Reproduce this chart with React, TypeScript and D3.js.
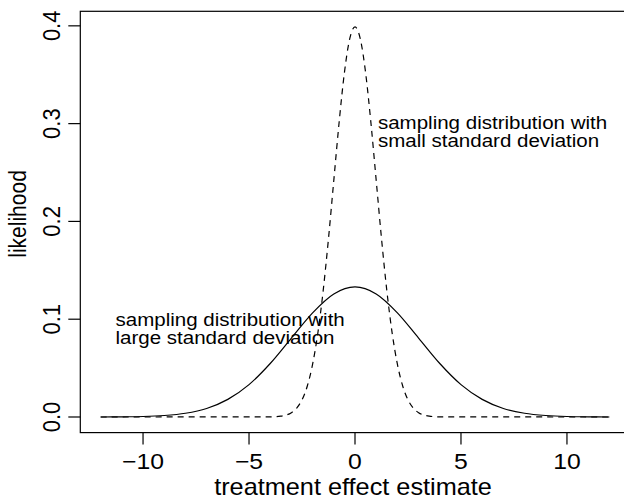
import * as d3 from "d3";
import React, { useEffect, useRef } from "react";

// wide sampling distribution (solid)
const xLarge = [-12, -11, -10, -9, -8, -7, -6, -5, -4, -3, -2, -1, 0, 1, 2, 3, 4, 5, 6, 7, 8, 9, 10, 11, 12];
const yLarge = [0.0, 0.0002, 0.0005, 0.0015, 0.0038, 0.0087, 0.018, 0.0331, 0.0547, 0.0807, 0.1065, 0.1258, 0.133,
  0.1258, 0.1065, 0.0807, 0.0547, 0.0331, 0.018, 0.0087, 0.0038, 0.0015, 0.0005, 0.0002, 0.0];

// narrow sampling distribution (dashed)
const xSmall = [-12, -4, -3.5, -3, -2.75, -2.5, -2.25, -2, -1.75, -1.5, -1.25, -1, -0.75, -0.5, -0.25, 0,
  0.25, 0.5, 0.75, 1, 1.25, 1.5, 1.75, 2, 2.25, 2.5, 2.75, 3, 3.5, 4, 12];
const ySmall = [0.0, 0.0001, 0.0009, 0.0044, 0.0091, 0.0175, 0.0317, 0.054, 0.0863, 0.1295, 0.1826, 0.242, 0.3011, 0.3521, 0.3867, 0.3989,
  0.3867, 0.3521, 0.3011, 0.242, 0.1826, 0.1295, 0.0863, 0.054, 0.0317, 0.0175, 0.0091, 0.0044, 0.0009, 0.0001, 0.0];

const xTicks = [-10, -5, 0, 5, 10];
const yTicks = [0.0, 0.1, 0.2, 0.3, 0.4];
const xTickLabels = ["\u221210", "\u22125", "0", "5", "10"];
const yTickLabels = ["0.0", "0.1", "0.2", "0.3", "0.4"];

const smallNote = ["sampling distribution with", "small standard deviation"];
const largeNote = ["sampling distribution with", "large standard deviation"];

const W = 624;
const H = 500;
const FONT = "'Liberation Sans', Arial, Helvetica, sans-serif";
// the reference looks a little stretched sideways
const SX = 1.1;

const App: React.FC = () => {
  const ref = useRef<SVGSVGElement>(null);

  useEffect(() => {
    if (!ref.current) return;
    const svg = d3.select(ref.current);
    svg.selectAll("*").remove();

    // R-style 4% padding around data range
    const x = d3.scaleLinear().domain([-12.96, 12.96]).range([80.3, 629.7]);
    const y = d3.scaleLinear().domain([-0.01596, 0.41487]).range([432.6, 11.3]);

    const line = d3.line<number>().curve(d3.curveMonotoneX);

    svg.append("path")
      .attr("d", line.x((_, i) => x(xLarge[i])).y((d) => y(d))(yLarge))
      .attr("fill", "none")
      .attr("stroke", "#000")
      .attr("stroke-width", 1.2);

    svg.append("path")
      .attr("d", line.x((_, i) => x(xSmall[i])).y((d) => y(d))(ySmall))
      .attr("fill", "none")
      .attr("stroke", "#000")
      .attr("stroke-width", 1.2)
      .attr("stroke-dasharray", "6,5");

    // box
    svg.append("rect")
      .attr("x", x.range()[0]).attr("y", y.range()[1])
      .attr("width", x.range()[1] - x.range()[0])
      .attr("height", y.range()[0] - y.range()[1])
      .attr("fill", "none").attr("stroke", "#000").attr("stroke-width", 1.2);

    const bottom = y.range()[0];
    const left = x.range()[0];

    svg.selectAll(".xt").data(xTicks).enter().append("line")
      .attr("x1", (d) => x(d)).attr("x2", (d) => x(d))
      .attr("y1", bottom).attr("y2", bottom + 12)
      .attr("stroke", "#000").attr("stroke-width", 1.2);
    svg.selectAll(".xl").data(xTicks).enter().append("text")
      .attr("transform", (d) => `translate(${x(d)},469) scale(${SX},1)`)
      .attr("text-anchor", "middle")
      .style("font-family", FONT).style("font-size", "22.5px")
      .text((_, i) => xTickLabels[i]);

    svg.selectAll(".yt").data(yTicks).enter().append("line")
      .attr("x1", left).attr("x2", left - 12)
      .attr("y1", (d) => y(d)).attr("y2", (d) => y(d))
      .attr("stroke", "#000").attr("stroke-width", 1.2);
    svg.selectAll(".yl").data(yTicks).enter().append("text")
      .attr("transform", (d) => `translate(60,${y(d)}) scale(${SX},1) rotate(-90)`)
      .attr("text-anchor", "middle")
      .style("font-family", FONT).style("font-size", "22px")
      .text((_, i) => yTickLabels[i]);

    svg.append("text")
      .attr("transform", `translate(${x(0) - 2},495) scale(${SX},1)`)
      .attr("text-anchor", "middle")
      .style("font-family", FONT).style("font-size", "23px")
      .text("treatment effect estimate");

    svg.append("text")
      .attr("transform", `translate(26,${(y.range()[0] + y.range()[1]) / 2 - 8}) scale(${SX},1) rotate(-90)`)
      .attr("text-anchor", "middle")
      .style("font-family", FONT).style("font-size", "21px")
      .text("likelihood");

    const note = (lines: string[], nx: number, ny: number) => {
      const t = svg.append("text")
        .attr("transform", `translate(${x(nx)},${ny}) scale(1.11,1)`)
        .style("font-family", FONT).style("font-size", "18.5px");
      lines.forEach((s, i) => {
        t.append("tspan").attr("x", 0).attr("y", i * 18).text(s);
      });
    };
    note(smallNote, 1.08, 129);
    note(largeNote, -11.3, 326);
  }, []);

  return (
    <svg ref={ref} width={W} height={H}
      style={{ position: "absolute", left: 0, top: 0, background: "#fff" }} />
  );
};

export default App;
